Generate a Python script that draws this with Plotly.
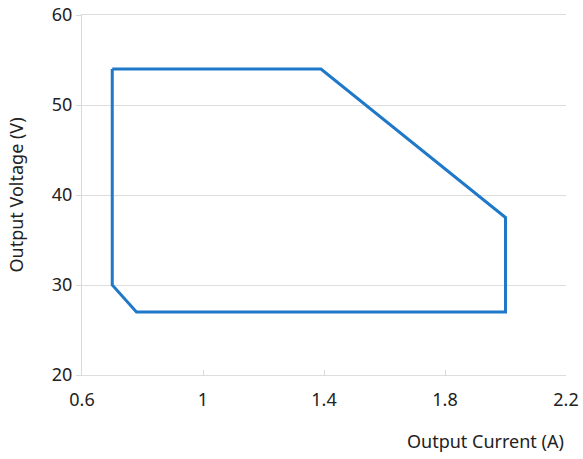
import plotly.graph_objects as go

current = [0.7, 1.39, 2.0, 2.0, 0.78, 0.7, 0.7]
voltage = [54, 54, 37.5, 27, 27, 30, 54]
x_ticks = [0.6, 1, 1.4, 1.8, 2.2]
x_tick_text = ["0.6", "1", "1.4", "1.8", "2.2"]
y_ticks = [20, 30, 40, 50, 60]

fig = go.Figure()
fig.add_trace(go.Scatter(x=current, y=voltage, mode="lines",
                         line=dict(color="#1f78c8", width=3), showlegend=False,
                         hoverinfo="skip"))

font = "Noto Sans, Open Sans, sans-serif"
fig.update_layout(
    width=583, height=459,
    margin=dict(l=82, r=17, t=15, b=84),
    plot_bgcolor="white", paper_bgcolor="white",
    font=dict(family=font, size=18, color="#222222"),
)
fig.update_xaxes(range=[0.6, 2.2], tickvals=x_ticks, ticktext=x_tick_text,
                 showgrid=False, zeroline=False,
                 showline=True, mirror=True, linecolor="#dddddd", linewidth=1,
                 ticks="inside", ticklen=5, tickcolor="#d9d9d9",
                 ticklabelstandoff=8, ticklabeloverflow="allow",
                 tickfont=dict(size=18), automargin=False)
fig.update_yaxes(range=[20, 60], tickvals=y_ticks, showgrid=True,
                 gridcolor="#dddddd", gridwidth=1, zeroline=False,
                 showline=True, linecolor="#d9d9d9", linewidth=1,
                 ticks="outside", ticklen=5, tickcolor="#d9d9d9",
                 ticklabeloverflow="allow",
                 tickfont=dict(size=18), automargin=False,
                 title=dict(text="Output Voltage (V)", font=dict(size=18), standoff=23))
fig.add_annotation(text="Output Current (A)", xref="paper", yref="paper",
                   x=1, y=0, xanchor="right", yanchor="top", yshift=-52,
                   showarrow=False, font=dict(size=18, family=font, color="#222222"))
fig.write_html("out.html", config={"displayModeBar": False},
               post_script="document.body.style.margin='0';document.body.style.overflow='hidden';")
